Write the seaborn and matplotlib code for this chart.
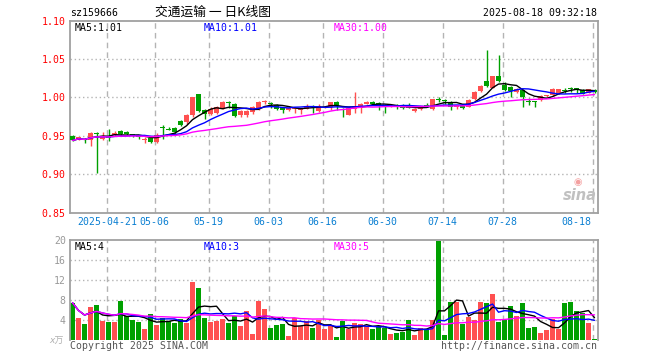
import numpy as np
import pandas as pd
import matplotlib
matplotlib.use("Agg")
import matplotlib.pyplot as plt
import seaborn as sns

# ---------------- data ----------------
holidays = ["2025-05-01", "2025-05-02", "2025-05-05", "2025-06-02"]
tick_dates = ["2025-04-21", "2025-05-06", "2025-05-19", "2025-06-03", "2025-06-16",
              "2025-06-30", "2025-07-14", "2025-07-28", "2025-08-18"]
tick_labels = ["2025-04-21", "05-06", "05-19", "06-03", "06-16", "06-30", "07-14", "07-28", "08-18"]

opens = [0.950, 0.945, 0.946, 0.944, 0.954, 0.946, 0.950, 0.951, 0.956, 0.955,
         0.9525, 0.950, 0.944, 0.947, 0.942, 0.9605, 0.959, 0.9605, 0.9695, 0.968,
         0.9765, 1.004, 0.984, 0.9785, 0.980, 0.9855, 0.994, 0.992, 0.9765, 0.9765,
         0.981, 0.9845, 0.994, 0.9915, 0.990, 0.987, 0.984, 0.985, 0.984, 0.9855,
         0.989, 0.982, 0.987, 0.987, 0.9935, 0.981, 0.9775, 0.985, 0.986, 0.9915,
         0.994, 0.993, 0.990, 0.988, 0.990, 0.987, 0.9875, 0.983, 0.985, 0.990,
         0.985, 0.9975, 0.996, 0.9945, 0.987, 0.990, 0.988, 0.998, 1.008, 1.021,
         1.013, 1.0285, 1.0165, 1.014, 1.007, 1.010, 0.995, 0.995, 0.997, 1.0013,
         1.0026, 1.0057, 1.009, 1.0112, 1.0112, 1.010, 1.0057, 1.010]
highs = [0.951, 0.949, 0.947, 0.955, 0.955, 0.955, 0.959, 0.956, 0.957, 0.956,
         0.953, 0.951, 0.948, 0.948, 0.954, 0.964, 0.961, 0.961, 0.971, 0.978,
         1.001, 1.005, 0.985, 0.988, 0.989, 0.996, 0.995, 0.993, 0.984, 0.984,
         0.989, 0.995, 0.997, 0.994, 0.991, 0.988, 0.988, 0.987, 0.986, 0.992,
         0.990, 0.992, 0.989, 0.994, 0.995, 0.986, 0.987, 1.0075, 0.993, 0.995,
         0.995, 0.994, 0.991, 0.990, 0.991, 0.991, 0.993, 0.986, 0.989, 0.993,
         0.998, 1.001, 0.998, 0.996, 0.990, 0.991, 0.998, 1.008, 1.0165, 1.062,
         1.028, 1.0555, 1.020, 1.015, 1.012, 1.011, 0.999, 0.996, 1.003, 1.0035,
         1.012, 1.0115, 1.012, 1.0135, 1.0125, 1.011, 1.0115, 1.0105]
lows = [0.943, 0.944, 0.941, 0.937, 0.901, 0.945, 0.943, 0.950, 0.951, 0.951,
        0.949, 0.946, 0.940, 0.940, 0.941, 0.946, 0.957, 0.9525, 0.963, 0.966,
        0.975, 0.981, 0.9715, 0.977, 0.979, 0.985, 0.986, 0.974, 0.975, 0.975,
        0.979, 0.984, 0.991, 0.986, 0.984, 0.980, 0.982, 0.980, 0.978, 0.985,
        0.980, 0.981, 0.986, 0.984, 0.984, 0.974, 0.977, 0.980, 0.980, 0.991,
        0.991, 0.984, 0.980, 0.987, 0.985, 0.985, 0.986, 0.981, 0.984, 0.988,
        0.984, 0.994, 0.992, 0.984, 0.985, 0.985, 0.987, 0.997, 1.007, 1.014,
        1.012, 1.020, 1.008, 1.000, 1.006, 0.987, 0.990, 0.988, 0.996, 1.000,
        1.002, 1.005, 1.0055, 1.007, 1.0055, 1.004, 1.0055, 1.006]
closes = [0.944, 0.948, 0.944, 0.9535, 0.953, 0.950, 0.947, 0.954, 0.952, 0.952,
          0.950, 0.948, 0.9465, 0.9425, 0.951, 0.960, 0.958, 0.9555, 0.9645, 0.9775,
          1.000, 0.983, 0.978, 0.985, 0.987, 0.9935, 0.9925, 0.976, 0.983, 0.983,
          0.987, 0.9935, 0.9945, 0.991, 0.985, 0.984, 0.9865, 0.986, 0.985, 0.989,
          0.987, 0.9895, 0.988, 0.9935, 0.990, 0.9805, 0.986, 0.989, 0.992, 0.994,
          0.992, 0.990, 0.989, 0.989, 0.988, 0.9865, 0.986, 0.985, 0.988, 0.989,
          0.9975, 0.997, 0.995, 0.988, 0.990, 0.986, 0.997, 1.0075, 1.0155, 1.0155,
          1.0275, 1.0215, 1.010, 1.0085, 1.011, 1.000, 0.9945, 0.9945, 1.002, 1.0035,
          1.0113, 1.0113, 1.0088, 1.011, 1.011, 1.0048, 1.0113, 1.0065]
volumes = [7.4, 4.33, 3.13, 6.6, 6.93, 3.8, 3.53, 3.53, 7.8, 4.73,
           3.93, 3.53, 2.13, 5.13, 2.93, 4.33, 3.8, 3.33, 4.13, 3.33,
           11.53, 10.4, 4.33, 3.53, 3.8, 4.13, 3.33, 4.73, 2.73, 5.73,
           1.13, 7.8, 6.2, 2.33, 2.93, 3.13, 0.73, 4.33, 2.73, 3.73,
           2.33, 3.93, 2.13, 2.87, 0.6, 3.8, 2.13, 3.33, 3.13, 2.73,
           2.13, 2.73, 2.33, 1.13, 1.33, 1.53, 3.93, 0.93, 2.33, 1.93,
           3.93, 19.8, 0.93, 7.53, 7.53, 3.13, 4.6, 3.93, 7.53, 7.33,
           9.13, 3.53, 3.93, 6.73, 4.73, 7.33, 2.33, 2.53, 1.33, 1.93,
           4.13, 2.13, 7.33, 7.53, 5.73, 5.33, 3.33, 0.13]
price_ticks = [1.10, 1.05, 1.00, 0.95, 0.90, 0.85]
vol_ticks = [20, 16, 12, 8, 4]
price_ma_labels = ["MA5:1.01", "MA10:1.01", "MA30:1.00"]
vol_ma_labels = ["MA5:4", "MA10:3", "MA30:5"]

# ---------------- derived ----------------
days = pd.bdate_range("2025-04-11", "2025-08-18")
days = days[~days.isin(pd.to_datetime(holidays))]
n = len(days)
x = np.arange(n)
o, h, l, c, v = map(np.array, (opens, highs, lows, closes, volumes))
up = c > o
RED, GREEN = "#ff5050", "#00a000"
cols = np.where(up, RED, GREEN)
cl = pd.Series(c)
vs = pd.Series(v)
ma = {k: cl.rolling(k, min_periods=1).mean() for k in (5, 10, 30)}
vma = {k: vs.rolling(k, min_periods=1).mean() for k in (5, 10, 30)}
tick_pos = [int(np.where(days == pd.Timestamp(d))[0][0]) for d in tick_dates]

# ---------------- style ----------------
sns.set_style("white")
plt.rcParams["font.family"] = ["DejaVu Sans Mono", "Noto Sans CJK SC"]
FS = 7.15

W, H = 660, 360
fig = plt.figure(figsize=(6.6, 3.6), dpi=100)

def axes_px(l, t, r, b):
    return fig.add_axes([l / W, 1 - b / H, (r - l) / W, (b - t) / H])

axp = axes_px(70, 20.8, 598, 212.5)
axv = axes_px(70, 240, 598, 339.7)
XL = (-0.42, n - 1 + 0.58)
FRAME = "#a0a0a0"

for ax in (axp, axv):
    ax.set_xlim(*XL)
    ax.set_facecolor("white")
    for s in ax.spines.values():
        s.set_color(FRAME)
        s.set_linewidth(1.3)
    ax.tick_params(length=0, pad=3)
    ax.set_xticks([])
    for tp in tick_pos:
        ax.axvline(tp - 0.28, color="#b4b4b4", lw=1, ls=(0, (4, 3)), zorder=0)
axv.spines["bottom"].set_visible(False)

# price panel
axp.set_ylim(0.85, 1.10)
axp.set_yticks(price_ticks)
axp.set_yticklabels([f"{t:.2f}" for t in price_ticks], color="red", fontsize=FS)
for t in price_ticks[1:-1]:
    axp.axhline(t, color="#b4b4b4", lw=1, ls=(0, (1, 2)), zorder=0)

bw = 0.8
axp.vlines(x, l, h, colors=cols, lw=1, zorder=2)
body_lo = np.minimum(o, c)
body_h = np.maximum(np.abs(c - o), 0.0012)
axp.bar(x, body_h, bottom=body_lo, width=bw, color=cols, linewidth=0, zorder=3)

for k, colr in ((5, "black"), (10, "#0000ff"), (30, "#ff00ff")):
    sns.lineplot(x=x, y=ma[k].values, ax=axp, color=colr, lw=1, legend=False, zorder=4)
    sns.lineplot(x=x, y=vma[k].values, ax=axv, color=colr, lw=1, legend=False, zorder=4)
axp.set_xlabel(""); axp.set_ylabel("")

# volume panel
axv.set_ylim(0, 20)
axv.set_yticks(vol_ticks)
axv.set_yticklabels([str(t) for t in vol_ticks], color="#999999", fontsize=FS)
for t in vol_ticks[1:]:
    axv.axhline(t, color="#b4b4b4", lw=1, ls=(0, (1, 2)), zorder=0)
axv.bar(x, v, width=bw, color=cols, linewidth=0, zorder=2)
axv.set_xlabel(""); axv.set_ylabel("")

# date labels
for tp, lab in zip(tick_pos, tick_labels):
    ha = "right" if tp == n - 1 else "center"
    xx = tp - 0.28 if ha == "center" else tp - 0.5
    axp.text(xx, -0.025, lab, transform=axp.get_xaxis_transform(), ha=ha, va="top",
             color="#0a7fd2", fontsize=FS)

# MA legends
ma_cols = ["black", "#0000ff", "#ff00ff"]
ma_px = [75, 204, 334]

def legend(ax, yfrac, labels):
    for px, txt, colr in zip(ma_px, labels, ma_cols):
        ax.text((px - 70) / 528, yfrac, txt, transform=ax.transAxes, color=colr,
                fontsize=FS, va="center", ha="left")

legend(axp, 0.962, price_ma_labels)
legend(axv, 0.93, vol_ma_labels)

# header texts
fig.text(70 / W, 1 - 13 / H, "sz159666", fontsize=FS, va="center", ha="left", color="black")
fig.text(213 / W, 1 - 12.5 / H, "交通运输 一 日K线图", fontsize=9.2, va="center", ha="center",
         color="black", family=["Noto Sans CJK SC", "DejaVu Sans"])
fig.text(597 / W, 1 - 13 / H, "2025-08-18 09:32:18", fontsize=FS, va="center", ha="right", color="black")

# footer texts
fig.text(70 / W, 1 - 346 / H, "Copyright 2025 SINA.COM", fontsize=FS, va="center", ha="left", color="#555555")
fig.text(597 / W, 1 - 346 / H, "http://finance.sina.com.cn", fontsize=FS, va="center", ha="right", color="#555555")
fig.text(56 / W, 1 - 341 / H, "x万", fontsize=6.5, va="center", ha="center", color="#b0b0b0",
         style="italic", family=["DejaVu Sans", "Noto Sans CJK SC"])

# sina watermark
axp.text(0.998, 0.05, "sina", transform=axp.transAxes, ha="right", va="bottom", fontsize=10.5,
         color="#c0c0c0", style="italic", weight="bold", family="DejaVu Sans", zorder=1)
axp.text(0.962, 0.135, "◉", transform=axp.transAxes, ha="center", va="bottom", fontsize=7,
         color="#f4a0a0", family="DejaVu Sans", zorder=1)

fig.savefig("out.png", dpi=100, facecolor="white")
